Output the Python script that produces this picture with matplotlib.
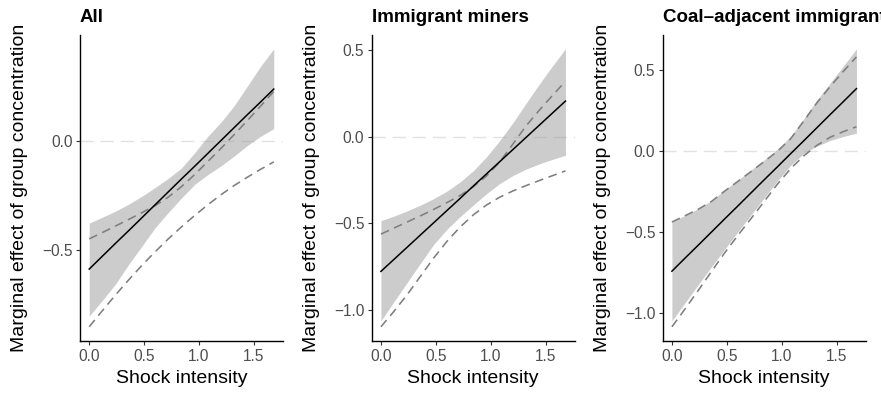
import matplotlib.pyplot as plt

plt.rcParams['font.family'] = ['Liberation Sans', 'DejaVu Sans']

# shock intensity grid shared by all three models
shock = [0.0, 0.12, 0.24, 0.36, 0.48, 0.60, 0.72, 0.84,
         0.96, 1.08, 1.20, 1.32, 1.44, 1.56, 1.68]

# All
all_est = [-0.587, -0.528, -0.469, -0.411, -0.352, -0.293, -0.234, -0.175,
           -0.117, -0.058, 0.001, 0.060, 0.119, 0.177, 0.236]
all_lo = [-0.802, -0.730, -0.655, -0.565, -0.482, -0.398, -0.328, -0.262,
          -0.200, -0.155, -0.115, -0.070, -0.022, 0.020, 0.055]
all_hi = [-0.377, -0.350, -0.322, -0.290, -0.254, -0.214, -0.172, -0.125,
          -0.055, 0.020, 0.085, 0.160, 0.250, 0.340, 0.420]
all_dash_lo = [-0.851, -0.777, -0.705, -0.636, -0.570, -0.508, -0.449, -0.394,
               -0.342, -0.293, -0.247, -0.205, -0.167, -0.131, -0.097]
all_dash_hi = [-0.449, -0.420, -0.390, -0.360, -0.329, -0.297, -0.258, -0.210,
               -0.155, -0.095, -0.035, 0.028, 0.092, 0.158, 0.225]

# Immigrant miners
miners_est = [-0.777, -0.707, -0.637, -0.567, -0.497, -0.427, -0.357, -0.286,
              -0.216, -0.146, -0.076, -0.006, 0.064, 0.134, 0.204]
miners_lo = [-1.062, -0.950, -0.840, -0.730, -0.622, -0.535, -0.462, -0.395,
             -0.330, -0.272, -0.225, -0.188, -0.158, -0.132, -0.108]
miners_hi = [-0.485, -0.458, -0.428, -0.395, -0.358, -0.315, -0.262, -0.198,
             -0.118, -0.025, 0.078, 0.190, 0.300, 0.405, 0.505]
miners_dash_lo = [-1.096, -1.006, -0.910, -0.805, -0.700, -0.605, -0.522, -0.452,
                  -0.395, -0.350, -0.314, -0.283, -0.254, -0.226, -0.198]
miners_dash_hi = [-0.562, -0.527, -0.492, -0.457, -0.420, -0.381, -0.340, -0.290,
                  -0.228, -0.148, -0.045, 0.060, 0.150, 0.235, 0.318]

# Coal-adjacent immigrants
coal_est = [-0.743, -0.662, -0.582, -0.501, -0.420, -0.340, -0.259, -0.178,
            -0.098, -0.017, 0.063, 0.144, 0.225, 0.305, 0.386]
coal_lo = [-1.050, -0.938, -0.826, -0.716, -0.608, -0.500, -0.395, -0.290,
           -0.185, -0.090, -0.015, 0.030, 0.065, 0.090, 0.110]
coal_hi = [-0.439, -0.398, -0.356, -0.306, -0.242, -0.180, -0.118, -0.055,
           0.010, 0.090, 0.200, 0.315, 0.420, 0.525, 0.632]
coal_dash_lo = [-1.087, -0.976, -0.862, -0.745, -0.630, -0.522, -0.418, -0.312,
                -0.205, -0.110, -0.030, 0.035, 0.085, 0.120, 0.150]
coal_dash_hi = [-0.439, -0.400, -0.360, -0.312, -0.248, -0.188, -0.127, -0.065,
                -0.002, 0.075, 0.185, 0.298, 0.398, 0.492, 0.582]

titles = ['All', 'Immigrant miners', 'Coal\u2013adjacent immigrants']
yticks = [[-0.5, 0.0], [-1.0, -0.5, 0.0, 0.5], [-1.0, -0.5, 0.0, 0.5]]
xticks = [0.0, 0.5, 1.0, 1.5]

panels = [
    (all_est, all_lo, all_hi, all_dash_lo, all_dash_hi),
    (miners_est, miners_lo, miners_hi, miners_dash_lo, miners_dash_hi),
    (coal_est, coal_lo, coal_hi, coal_dash_lo, coal_dash_hi),
]

fig = plt.figure(figsize=(8.81, 3.93), dpi=100)
lefts = [0.0908, 0.4219, 0.7522]
bottom, width, height = 0.1331, 0.2304, 0.778
dash = (0, (5.5, 3.5))

for i, (est, lo, hi, dlo, dhi) in enumerate(panels):
    ax = fig.add_axes([lefts[i], bottom, width, height])

    ax.fill_between(shock, lo, hi, color='#CCCCCC', lw=0, zorder=1)
    ax.axhline(0, color='#9A9A9A', alpha=0.28, lw=1.0, ls=(0, (9.5, 5)), zorder=2)
    ax.plot(shock, dlo, color='#7F7F7F', lw=1.15, ls=dash, zorder=3)
    ax.plot(shock, dhi, color='#7F7F7F', lw=1.15, ls=dash, zorder=3)
    ax.plot(shock, est, color='black', lw=1.1, zorder=4)

    ax.margins(x=0.05, y=0.05)
    ax.set_xticks(xticks)
    ax.set_xticklabels(['%.1f' % t for t in xticks])
    ax.set_yticks(yticks[i])

    for side in ['top', 'right']:
        ax.spines[side].set_visible(False)
    for side in ['left', 'bottom']:
        ax.spines[side].set_linewidth(1.0)
        ax.spines[side].set_color('black')

    ax.tick_params(axis='both', length=2.8, width=0.8, color='#333333',
                   labelcolor='#4D4D4D', labelsize=11.2)
    ax.tick_params(axis='y', pad=2.5)
    ax.tick_params(axis='x', pad=3.5)

    ax.set_xlabel('Shock intensity', fontsize=14)
    ax.set_ylabel('Marginal effect of group concentration', fontsize=14)
    ax.xaxis.set_label_coords(0.5, -0.096)
    ax.yaxis.set_label_coords(-0.255, 0.5)

    ax.set_title(titles[i], loc='left', fontsize=13.5, fontweight='bold', pad=9)

fig.savefig('out.png', dpi=100)
